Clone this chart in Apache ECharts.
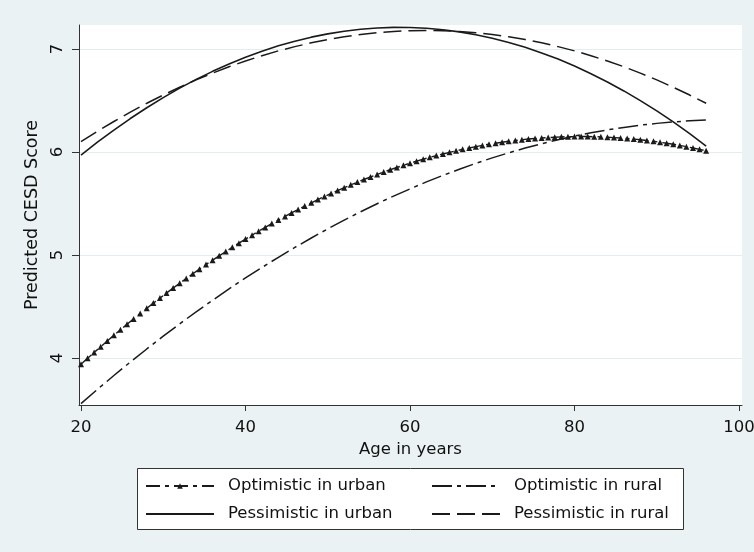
<!DOCTYPE html>
<html>
<head>
<meta charset="utf-8">
<script src="https://cdn.jsdelivr.net/npm/echarts@6/dist/echarts.min.js"></script>
<style>
html,body{margin:0;padding:0;background:#eaf2f3;}
#chart{width:754px;height:552px;}
</style>
</head>
<body>
<div id="chart"></div>
<script>
// ---- data ----
const seriesNames = ['Optimistic in urban', 'Optimistic in rural', 'Pessimistic in urban', 'Pessimistic in rural'];
const xTicks = [20, 40, 60, 80, 100];
const yTicks = [4, 5, 6, 7];

const ages = [20,22,24,26,28,30,32,34,36,38,40,42,44,46,48,50,52,54,56,58,60,62,64,66,68,70,72,74,76,78,80,82,84,86,88,90,92,94,96];
const pessUrban = [5.970,6.095,6.213,6.325,6.430,6.528,6.620,6.705,6.783,6.855,6.920,6.979,7.031,7.076,7.115,7.147,7.173,7.192,7.204,7.210,7.209,7.201,7.187,7.166,7.138,7.104,7.064,7.016,6.962,6.902,6.834,6.760,6.680,6.593,6.499,6.399,6.292,6.178,6.058];
const pessRural = [6.100,6.201,6.296,6.387,6.473,6.553,6.629,6.700,6.766,6.828,6.884,6.935,6.982,7.023,7.060,7.092,7.119,7.141,7.158,7.170,7.178,7.180,7.178,7.170,7.158,7.141,7.119,7.092,7.060,7.023,6.982,6.935,6.884,6.828,6.766,6.700,6.629,6.553,6.473];
const optRural = [3.558,3.696,3.830,3.961,4.088,4.212,4.332,4.448,4.561,4.671,4.777,4.879,4.978,5.074,5.165,5.254,5.339,5.420,5.498,5.572,5.642,5.710,5.773,5.833,5.890,5.943,5.992,6.038,6.080,6.119,6.155,6.186,6.215,6.239,6.261,6.278,6.292,6.303,6.310];

const agesFine = [20,20.8,21.6,22.4,23.2,24,24.8,25.6,26.4,27.2,28,28.8,29.6,30.4,31.2,32,32.8,33.6,34.4,35.2,36,36.8,37.6,38.4,39.2,40,40.8,41.6,42.4,43.2,44,44.8,45.6,46.4,47.2,48,48.8,49.6,50.4,51.2,52,52.8,53.6,54.4,55.2,56,56.8,57.6,58.4,59.2,60,60.8,61.6,62.4,63.2,64,64.8,65.6,66.4,67.2,68,68.8,69.6,70.4,71.2,72,72.8,73.6,74.4,75.2,76,76.8,77.6,78.4,79.2,80,80.8,81.6,82.4,83.2,84,84.8,85.6,86.4,87.2,88,88.8,89.6,90.4,91.2,92,92.8,93.6,94.4,95.2,96];
const optUrban = [3.939,3.997,4.054,4.110,4.166,4.221,4.275,4.328,4.380,4.432,4.483,4.533,4.582,4.631,4.679,4.726,4.772,4.818,4.863,4.907,4.950,4.992,5.034,5.075,5.115,5.155,5.193,5.231,5.268,5.305,5.340,5.375,5.409,5.442,5.475,5.507,5.538,5.568,5.597,5.626,5.654,5.681,5.708,5.733,5.758,5.782,5.806,5.828,5.850,5.871,5.891,5.911,5.930,5.948,5.965,5.981,5.997,6.012,6.026,6.039,6.052,6.064,6.075,6.085,6.095,6.104,6.112,6.119,6.126,6.131,6.136,6.140,6.144,6.147,6.148,6.150,6.150,6.150,6.148,6.147,6.144,6.140,6.136,6.131,6.126,6.119,6.112,6.104,6.095,6.085,6.075,6.064,6.052,6.039,6.026,6.012];

// ---- chart ----
const pair = (xs, ys) => xs.map((x, i) => [x, ys[i]]);
const FONT = 'DejaVu Sans';
const INK = '#111111';
const LINE = '#1a1a1a';
const hiddenSymbol = {color: 'rgba(0,0,0,0)', borderWidth: 0, opacity: 0};

const chart = echarts.init(document.getElementById('chart'), null, {renderer: 'canvas'});
chart.setOption({
  animation: false,
  backgroundColor: '#eaf2f3',
  graphic: [{
    type: 'rect', left: 137, top: 468, z: 0,
    shape: {width: 546, height: 61},
    style: {fill: '#ffffff', stroke: '#333333', lineWidth: 1}
  }],
  grid: {
    left: 79, right: 12, top: 25, bottom: 147,
    show: true, backgroundColor: '#ffffff', borderWidth: 0,
    containLabel: false, outerBoundsMode: 'none'
  },
  xAxis: {
    type: 'value',
    min: 19.76, max: 100.36,
    name: 'Age in years',
    nameLocation: 'middle', nameGap: 28,
    nameTextStyle: {fontFamily: FONT, fontSize: 16.5, color: INK},
    axisLine: {show: true, onZero: false, lineStyle: {color: '#333333', width: 1}},
    axisTick: {show: true, length: 6, lineStyle: {color: '#333333'}, customValues: xTicks},
    axisLabel: {margin: 14, fontFamily: FONT, fontSize: 16.5, color: INK, customValues: xTicks},
    splitLine: {show: false}
  },
  yAxis: {
    type: 'value',
    min: 3.544, max: 7.233,
    name: 'Predicted CESD Score',
    nameLocation: 'middle', nameGap: 27,
    nameTextStyle: {fontFamily: FONT, fontSize: 17.5, color: INK},
    axisLine: {show: true, onZero: false, lineStyle: {color: '#333333', width: 1}},
    axisTick: {show: true, length: 7, lineStyle: {color: '#333333'}, customValues: yTicks},
    axisLabel: {rotate: 90, margin: 13, fontFamily: FONT, fontSize: 16.5, color: INK, customValues: yTicks},
    splitLine: {show: true, lineStyle: {color: '#e3ecee', width: 1}}
  },
  legend: {
    data: [
      {name: seriesNames[0]},
      {name: seriesNames[2], itemStyle: hiddenSymbol},
      {name: seriesNames[1], itemStyle: hiddenSymbol},
      {name: seriesNames[3], itemStyle: hiddenSymbol}
    ],
    left: 145, top: 477,
    height: 48,
    orient: 'vertical',
    padding: 0,
    itemWidth: 68, itemHeight: 7, itemGap: 10,
    selectedMode: false,
    textStyle: {fontFamily: FONT, fontSize: 16.5, color: INK, width: 193, overflow: 'none', lineHeight: 18, padding: [0, 0, 0, 9]}
  },
  series: [
    {
      name: seriesNames[0], type: 'line', data: pair(agesFine, optUrban),
      symbol: 'triangle', symbolSize: 6, showSymbol: true,
      itemStyle: {color: LINE},
      lineStyle: {color: LINE, width: 1.4, type: [14, 5, 4, 5]},
      z: 4
    },
    {
      name: seriesNames[1], type: 'line', data: pair(ages, optRural),
      symbol: 'none',
      itemStyle: {color: LINE},
      lineStyle: {color: LINE, width: 1.5, type: [20, 5, 4, 5]},
      z: 3
    },
    {
      name: seriesNames[2], type: 'line', data: pair(ages, pessUrban),
      symbol: 'none',
      itemStyle: {color: LINE},
      lineStyle: {color: LINE, width: 1.6, type: 'solid'},
      z: 3
    },
    {
      name: seriesNames[3], type: 'line', data: pair(ages, pessRural),
      symbol: 'none',
      itemStyle: {color: LINE},
      lineStyle: {color: LINE, width: 1.5, type: [18, 7]},
      z: 3
    }
  ]
});
</script>
</body>
</html>
